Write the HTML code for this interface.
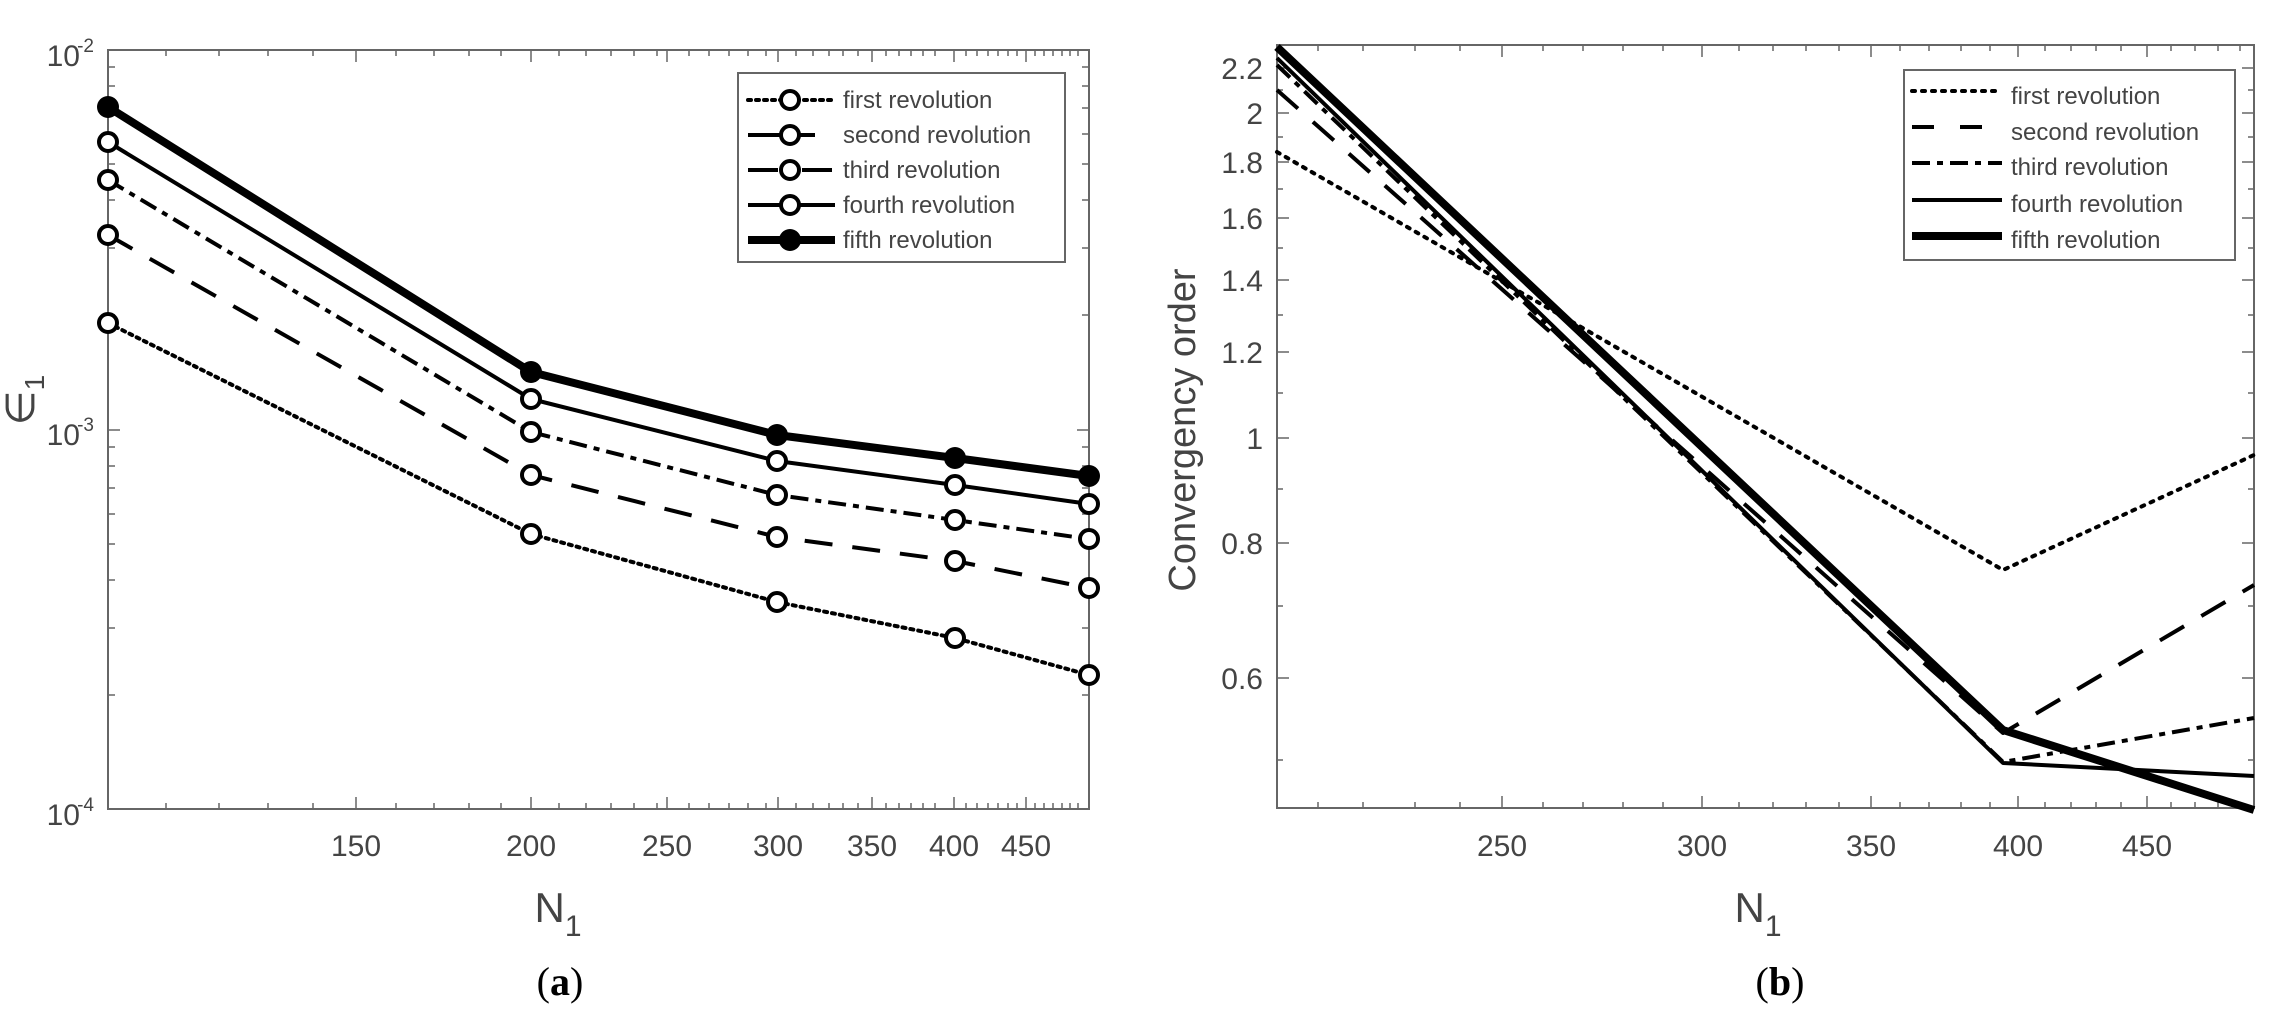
<!DOCTYPE html>
<html><head><meta charset="utf-8"><style>
html,body{margin:0;padding:0;background:#fff;}
svg{display:block;}
text{font-family:"Liberation Sans",Arial,sans-serif;fill:#444;}
</style></head><body>
<svg width="2288" height="1023" viewBox="0 0 2288 1023" xmlns="http://www.w3.org/2000/svg">
<!-- LEFT PLOT -->
<g stroke="#666" stroke-width="2" fill="none">
<rect x="108" y="50" width="981" height="759"/>
</g>
<g stroke="#666" stroke-width="1.5">
<path d="M356 809v-12M531 809v-12M667 809v-12M778 809v-12M872 809v-12M954 809v-12M1026 809v-12
M356 50v12M531 50v12M667 50v12M778 50v12M872 50v12M954 50v12M1026 50v12"/>
<path d="M166 809v-6M219 809v-6M268 809v-6M313 809v-6M396 809v-6M434 809v-6M469 809v-6M501 809v-6M559 809v-6M586 809v-6M611 809v-6M634 809v-6M657 809v-6M689 809v-6M709 809v-6M729 809v-6M748 809v-6M766 809v-6M796 809v-6M813 809v-6M829 809v-6M843 809v-6M858 809v-6M886 809v-6M899 809v-6M911 809v-6M923 809v-6M935 809v-6M966 809v-6M977 809v-6M988 809v-6M998 809v-6M1008 809v-6M1017 809v-6M1035 809v-6M1044 809v-6M1053 809v-6M1062 809v-6M1070 809v-6M1078 809v-6
M166 50v6M219 50v6M268 50v6M313 50v6M396 50v6M434 50v6M469 50v6M501 50v6M559 50v6M586 50v6M611 50v6M634 50v6M657 50v6M689 50v6M709 50v6M729 50v6M748 50v6M766 50v6M796 50v6M813 50v6M829 50v6M843 50v6M858 50v6M886 50v6M899 50v6M911 50v6M923 50v6M935 50v6M966 50v6M977 50v6M988 50v6M998 50v6M1008 50v6M1017 50v6M1035 50v6M1044 50v6M1053 50v6M1062 50v6M1070 50v6M1078 50v6"/>
<path d="M108 430h12M1089 430h-12
M108 315h7M108 248h7M108 200h7M108 164h7M108 134h7M108 108h7M108 86h7M108 67h7
M108 695h7M108 628h7M108 580h7M108 544h7M108 514h7M108 488h7M108 466h7M108 447h7
M1089 315h-7M1089 248h-7M1089 200h-7M1089 164h-7M1089 134h-7M1089 108h-7M1089 86h-7M1089 67h-7
M1089 695h-7M1089 628h-7M1089 580h-7M1089 544h-7M1089 514h-7M1089 488h-7M1089 466h-7M1089 447h-7"/>
</g>
<g font-size="30" text-anchor="middle">
<text x="356" y="856">150</text><text x="531" y="856">200</text><text x="667" y="856">250</text>
<text x="778" y="856">300</text><text x="872" y="856">350</text><text x="954" y="856">400</text><text x="1026" y="856">450</text>
</g>
<g font-size="30" text-anchor="end">
<text x="80" y="66">10</text><text x="94" y="52" font-size="19">-2</text>
<text x="80" y="445">10</text><text x="94" y="431" font-size="19">-3</text>
<text x="80" y="825">10</text><text x="94" y="811" font-size="19">-4</text>
</g>
<text transform="translate(34,400) rotate(-90)" font-size="40" text-anchor="middle">∈<tspan font-size="28" dy="10">1</tspan></text>
<text x="558" y="922" font-size="42" text-anchor="middle">N<tspan font-size="30" dy="14">1</tspan></text>
<text x="560" y="995" font-size="40" text-anchor="middle" style="font-family:'Liberation Serif',serif;fill:#000">(<tspan font-weight="bold">a</tspan>)</text>

<g fill="none" stroke="#000" stroke-linejoin="round">
<polyline points="108,323 531,534 777,602 955,638 1089,675" stroke-width="4" stroke-dasharray="3,5" stroke-linecap="round"/>
<polyline points="108,235 531,475 777,537 955,561 1089,588" stroke-width="4" stroke-dasharray="28,20"/>
<polyline points="108,180 531,432 777,495 955,520 1089,539" stroke-width="4" stroke-dasharray="18,7,6,7"/>
<polyline points="108,142 531,399 777,461 955,485 1089,504" stroke-width="4"/>
<polyline points="108,107 531,372 777,435 955,458 1089,476" stroke-width="8"/>
</g>
<g fill="#fff" stroke="#000" stroke-width="4">
<circle cx="108" cy="323" r="9"/><circle cx="531" cy="534" r="9"/><circle cx="777" cy="602" r="9"/><circle cx="955" cy="638" r="9"/><circle cx="1089" cy="675" r="9"/>
<circle cx="108" cy="235" r="9"/><circle cx="531" cy="475" r="9"/><circle cx="777" cy="537" r="9"/><circle cx="955" cy="561" r="9"/><circle cx="1089" cy="588" r="9"/>
<circle cx="108" cy="180" r="9"/><circle cx="531" cy="432" r="9"/><circle cx="777" cy="495" r="9"/><circle cx="955" cy="520" r="9"/><circle cx="1089" cy="539" r="9"/>
<circle cx="108" cy="142" r="9"/><circle cx="531" cy="399" r="9"/><circle cx="777" cy="461" r="9"/><circle cx="955" cy="485" r="9"/><circle cx="1089" cy="504" r="9"/>
</g>
<g fill="#000">
<circle cx="108" cy="107" r="11"/><circle cx="531" cy="372" r="11"/><circle cx="777" cy="435" r="11"/><circle cx="955" cy="458" r="11"/><circle cx="1089" cy="476" r="11"/>
</g>
<rect x="738" y="73" width="327" height="189" fill="#fff" stroke="#666" stroke-width="2"/>
<g fill="none" stroke="#000">
<line x1="748" y1="100" x2="835" y2="100" stroke-width="4" stroke-dasharray="3,5" stroke-linecap="round"/>
<line x1="748" y1="135" x2="815" y2="135" stroke-width="4"/>
<line x1="748" y1="170" x2="835" y2="170" stroke-width="4" stroke-dasharray="30,8,8,8"/>
<line x1="748" y1="205" x2="835" y2="205" stroke-width="4"/>
<line x1="748" y1="240" x2="835" y2="240" stroke-width="8"/>
</g>
<g fill="#fff" stroke="#000" stroke-width="4">
<circle cx="790" cy="100" r="9"/><circle cx="790" cy="135" r="9"/><circle cx="790" cy="170" r="9"/><circle cx="790" cy="205" r="9"/>
</g>
<circle cx="790" cy="240" r="11" fill="#000"/>
<g font-size="24" fill="#444">
<text x="843" y="108">first revolution</text><text x="843" y="143">second revolution</text>
<text x="843" y="178">third revolution</text><text x="843" y="213">fourth revolution</text><text x="843" y="248">fifth revolution</text>
</g>

<!-- RIGHT PLOT -->
<rect x="1277" y="45" width="977" height="763" fill="none" stroke="#666" stroke-width="2"/>
<g stroke="#666" stroke-width="1.5">
<path d="M1502 808v-12M1702 808v-12M1871 808v-12M2018 808v-12M2147 808v-12
M1502 45v12M1702 45v12M1871 45v12M2018 45v12M2147 45v12
M1277 68h12M1277 113h12M1277 162h12M1277 218h12M1277 280h12M1277 352h12M1277 438h12M1277 543h12M1277 678h12
M2254 68h-12M2254 113h-12M2254 162h-12M2254 218h-12M2254 280h-12M2254 352h-12M2254 438h-12M2254 543h-12M2254 678h-12"/>
<path d="M1318 808v-6M1363 808v-6M1415 808v-6M1460 808v-6M1543 808v-6M1583 808v-6M1623 808v-6M1663 808v-6M1739 808v-6M1773 808v-6M1806 808v-6M1839 808v-6M1900 808v-6M1929 808v-6M1961 808v-6M1990 808v-6M2045 808v-6M2071 808v-6M2096 808v-6M2121 808v-6M2171 808v-6M2195 808v-6M2218 808v-6M2240 808v-6
M1318 45v6M1363 45v6M1415 45v6M1460 45v6M1543 45v6M1583 45v6M1623 45v6M1663 45v6M1739 45v6M1773 45v6M1806 45v6M1839 45v6M1900 45v6M1929 45v6M1961 45v6M1990 45v6M2045 45v6M2071 45v6M2096 45v6M2121 45v6M2171 45v6M2195 45v6M2218 45v6M2240 45v6
M1277 90h6M1277 137h6M1277 189h6M1277 248h6M1277 315h6M1277 393h6M1277 489h6M1277 606h6M1277 760h6
M2254 90h-6M2254 137h-6M2254 189h-6M2254 248h-6M2254 315h-6M2254 393h-6M2254 489h-6M2254 606h-6M2254 760h-6"/>
</g>
<g font-size="30" text-anchor="end">
<text x="1263" y="79">2.2</text><text x="1263" y="124">2</text><text x="1263" y="173">1.8</text>
<text x="1263" y="229">1.6</text><text x="1263" y="291">1.4</text><text x="1263" y="363">1.2</text>
<text x="1263" y="449">1</text><text x="1263" y="554">0.8</text><text x="1263" y="689">0.6</text>
</g>
<g font-size="30" text-anchor="middle">
<text x="1502" y="856">250</text><text x="1702" y="856">300</text><text x="1871" y="856">350</text><text x="2018" y="856">400</text><text x="2147" y="856">450</text>
</g>
<text transform="translate(1195,430) rotate(-90)" font-size="38" text-anchor="middle">Convergency order</text>
<text x="1758" y="922" font-size="42" text-anchor="middle">N<tspan font-size="30" dy="14">1</tspan></text>
<text x="1780" y="995" font-size="40" text-anchor="middle" style="font-family:'Liberation Serif',serif;fill:#000">(<tspan font-weight="bold">b</tspan>)</text>

<g fill="none" stroke="#000" stroke-linejoin="round">
<polyline points="1277,152 2003,570 2254,455" stroke-width="4" stroke-dasharray="3,7" stroke-linecap="round"/>
<polyline points="1277,90 2003,733 2254,585" stroke-width="4" stroke-dasharray="28,20"/>
<polyline points="1277,65 2003,762 2254,718" stroke-width="4" stroke-dasharray="18,7,6,7"/>
<polyline points="1277,58 2003,763 2254,776" stroke-width="4"/>
<polyline points="1277,47 2003,730 2254,810" stroke-width="8"/>
</g>
<rect x="1904" y="70" width="331" height="190" fill="#fff" stroke="#666" stroke-width="2"/>
<g fill="none" stroke="#000">
<line x1="1912" y1="91" x2="2002" y2="91" stroke-width="4" stroke-dasharray="3,7" stroke-linecap="round"/>
<line x1="1912" y1="127" x2="2002" y2="127" stroke-width="4" stroke-dasharray="22,26"/>
<line x1="1912" y1="163" x2="2002" y2="163" stroke-width="4" stroke-dasharray="18,7,6,7"/>
<line x1="1912" y1="200" x2="2002" y2="200" stroke-width="4"/>
<line x1="1912" y1="236" x2="2002" y2="236" stroke-width="8"/>
</g>
<g font-size="24" fill="#444">
<text x="2011" y="104">first revolution</text><text x="2011" y="140">second revolution</text>
<text x="2011" y="175">third revolution</text><text x="2011" y="212">fourth revolution</text><text x="2011" y="248">fifth revolution</text>
</g>
</svg>
</body></html>
